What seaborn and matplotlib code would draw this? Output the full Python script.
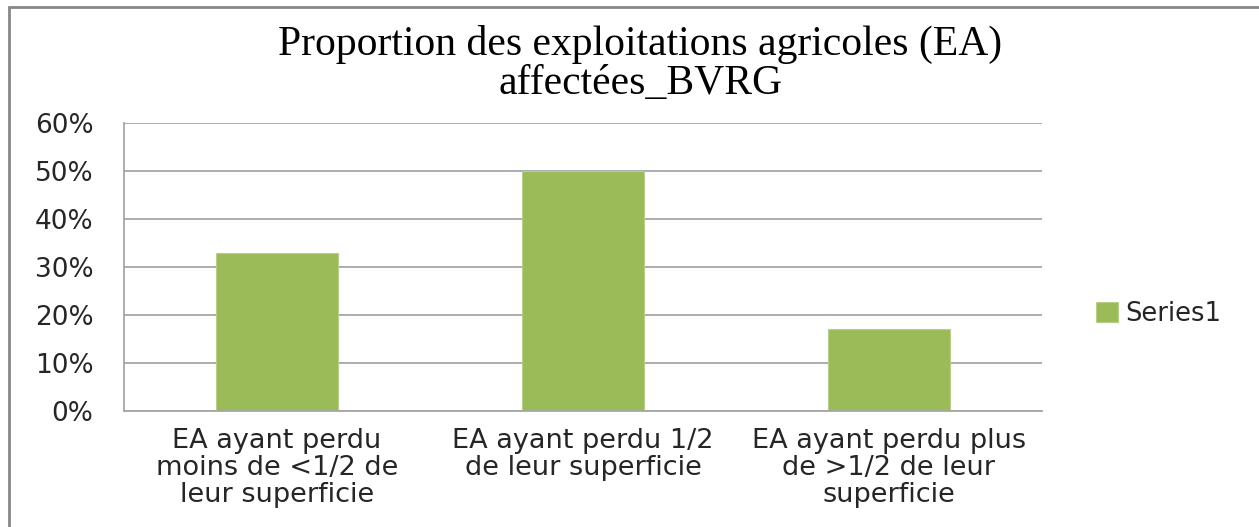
import matplotlib
matplotlib.use("Agg")
import matplotlib.pyplot as plt
from matplotlib.patches import Rectangle
from matplotlib.ticker import FuncFormatter
import pandas as pd
import seaborn as sns

# Chart data
categories = [
    "EA ayant perdu\nmoins de <1/2 de\nleur superficie",
    "EA ayant perdu 1/2\nde leur superficie",
    "EA ayant perdu plus\nde >1/2 de leur\nsuperficie",
]
values = [33, 50, 17]          # percent of farms
series_name = "Series1"
y_ticks = [0, 10, 20, 30, 40, 50, 60]
title_text = "Proportion des exploitations agricoles (EA)\naffectées_BVRG"

sns.set_theme(style="white")
plt.rcParams["font.family"] = ["DejaVu Sans"]

W, H = 1259, 527
fig = plt.figure(figsize=(W / 100, H / 100), dpi=100)
fig.patch.set_facecolor("white")

# Plot area in pixel coordinates
left, right, top, bottom = 124, 1042, 123, 411
ax = fig.add_axes([left / W, 1 - bottom / H, (right - left) / W, (bottom - top) / H])

df = pd.DataFrame({"cat": categories, "val": values, "series": series_name})
sns.barplot(data=df, x="cat", y="val", hue="series", palette=["#9BBB59"],
            width=0.4, ax=ax, saturation=1, edgecolor="#b8cf8a", linewidth=0.8)

grid_col = "#a6a6a6"
ax.set_ylim(0, 60)
ax.set_yticks(y_ticks)
ax.yaxis.set_major_formatter(FuncFormatter(lambda v, p: f"{int(v)}%"))
ax.set_axisbelow(True)
ax.yaxis.grid(True, color=grid_col, linewidth=1.3)
ax.xaxis.grid(False)
ax.set_xlabel("")
ax.set_ylabel("")
ax.set_xlim(-0.5, 2.5)

for side in ["top", "right"]:
    ax.spines[side].set_visible(False)
for side in ["left", "bottom"]:
    ax.spines[side].set_visible(True)
    ax.spines[side].set_color(grid_col)
    ax.spines[side].set_linewidth(1.3)

ax.tick_params(axis="both", length=0)
ax.tick_params(axis="y", pad=22, labelsize=19, labelcolor="#262626")
ax.tick_params(axis="x", pad=12, labelsize=19.5, labelcolor="#262626")
for lab in ax.get_xticklabels():
    lab.set_linespacing(1.05)
    lab.set_ha("center")

# Legend on the right
handles, labels = ax.get_legend_handles_labels()
ax.legend(handles, labels, loc="center left",
          bbox_to_anchor=(1096 / W, 1 - 314 / H), bbox_transform=fig.transFigure,
          frameon=False, borderaxespad=0, borderpad=0,
          handlelength=0.85, handleheight=0.8, handletextpad=0.3,
          prop={"size": 18.5}, labelcolor="#262626")

# Title
fig.text(640 / W, 1 - 25 / H, title_text, ha="center", va="top",
         fontsize=30, family="Liberation Serif", color="black", linespacing=1.02)

# Outer chart frame (top and left edges visible)
fig.patches.append(Rectangle((9 / W, -0.05), 1.2, (H - 7) / H + 0.05,
                             transform=fig.transFigure, fill=False,
                             edgecolor="#888888", linewidth=2))

fig.savefig("out.png", dpi=100, facecolor="white")
